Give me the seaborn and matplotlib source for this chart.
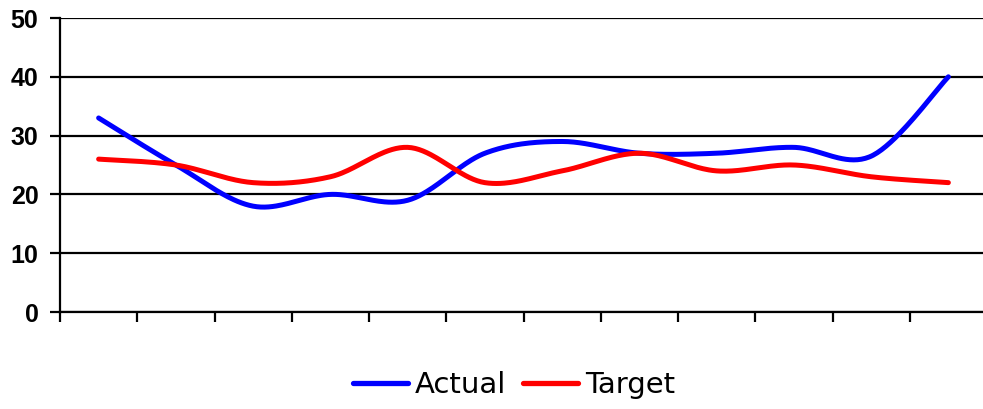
import numpy as np
import pandas as pd
import matplotlib
matplotlib.use("Agg")
import matplotlib.pyplot as plt
from matplotlib.lines import Line2D
import seaborn as sns

# Monthly figures
periods = list(range(12))
actual = [33, 25, 18, 20, 19, 27, 29, 27, 27, 28, 26.5, 40]
target = [26, 25, 22, 23, 28, 22, 24, 27, 24, 25, 23, 22]
series_names = ["Actual", "Target"]
series_colors = ["#0000FF", "#FF0000"]
y_ticks = [0, 10, 20, 30, 40, 50]


def smooth(xs, ys, steps=40):
    """Smoothed line through the points (Catmull-Rom as cubic Bezier)."""
    p = np.column_stack([xs, ys]).astype(float)
    ext = np.vstack([p[0], p, p[-1]])
    parts = []
    n = len(p)
    for i in range(n - 1):
        p0, p1, p2, p3 = ext[i], ext[i + 1], ext[i + 2], ext[i + 3]
        c1 = p1 + (p2 - p0) / 6.0
        c2 = p2 - (p3 - p1) / 6.0
        t = np.linspace(0, 1, steps, endpoint=(i == n - 2))[:, None]
        seg = ((1 - t) ** 3) * p1 + 3 * ((1 - t) ** 2) * t * c1 \
            + 3 * (1 - t) * (t ** 2) * c2 + (t ** 3) * p2
        parts.append(seg)
    return np.vstack(parts)


frames = []
for name, vals in zip(series_names, [actual, target]):
    curve = smooth(periods, vals)
    frames.append(pd.DataFrame({"x": curve[:, 0], "value": curve[:, 1],
                                "series": name}))
df = pd.concat(frames, ignore_index=True)

sns.set_style("white")
plt.rcParams["font.family"] = ["DejaVu Sans"]

fig = plt.figure(figsize=(9.83, 4.09), dpi=100)
ax = fig.add_axes([60 / 983, (409 - 312) / 409, 927 / 983, (312 - 18) / 409])

sns.lineplot(data=df, x="x", y="value", hue="series",
             palette=dict(zip(series_names, series_colors)),
             sort=False, estimator=None, linewidth=3.6, legend=False,
             ax=ax, zorder=3)
for line in ax.lines:
    line.set_solid_capstyle("round")

ax.set_xlim(-0.5, len(periods) - 0.5)
ax.set_ylim(0, 50)
ax.set_xticks(np.arange(-0.5, len(periods) + 0.5, 1.0))
ax.set_xticklabels([])
ax.set_yticks(y_ticks)
ax.set_yticklabels([str(v) for v in y_ticks], fontfamily="Liberation Sans",
                   fontweight="bold", fontsize=18, color="black")
ax.set_xlabel("")
ax.set_ylabel("")

ax.yaxis.grid(True, color="black", linewidth=1.6, zorder=1)
ax.xaxis.grid(False)
for side in ["top", "right"]:
    ax.spines[side].set_visible(False)
for side in ["left", "bottom"]:
    ax.spines[side].set_color("black")
    ax.spines[side].set_linewidth(1.6)
ax.tick_params(axis="both", direction="out", length=7, width=1.6,
               color="black", labelcolor="black")
ax.tick_params(axis="y", left=True, pad=8.5)
ax.tick_params(axis="x", bottom=True)

handles = [Line2D([0], [0], color=c, linewidth=3.8, solid_capstyle="round")
           for c in series_colors]
fig.legend(handles, series_names, loc="center", ncol=2,
           bbox_to_anchor=(514 / 983, (409 - 385) / 409), frameon=False,
           prop={"family": "DejaVu Sans", "size": 21}, labelcolor="black",
           handlelength=1.9, handletextpad=0.25, columnspacing=0.55)

fig.savefig("out.png", dpi=100)
